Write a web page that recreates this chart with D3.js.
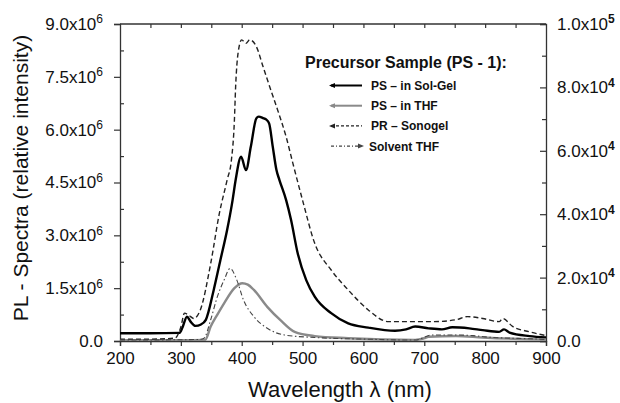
<!DOCTYPE html>
<html>
<head>
<meta charset="utf-8">
<script src="https://cdn.jsdelivr.net/npm/d3@7"></script>
<style>
  body { margin: 0; background: #fff; }
  svg { display: block; font-family: "Liberation Sans", Arial, sans-serif; }
</style>
</head>
<body>
<svg id="chart" width="620" height="403"></svg>
<script>
// PS - in Sol-Gel (left axis, x10^6)
const wlSolGel = [200, 250, 298, 303, 310, 316, 324, 333, 341, 354, 365, 376, 385, 390, 399, 407, 415, 424, 428, 435, 440, 445, 451, 457, 462, 473, 481, 492, 506, 520, 547, 575, 608, 652, 670, 685, 707, 729, 746, 774, 796, 823, 831, 840, 873, 900];
const solGel   = [0.22, 0.22, 0.23, 0.40, 0.69, 0.55, 0.43, 0.47, 0.60, 1.45, 2.30, 3.15, 4.00, 4.57, 5.23, 4.85, 5.52, 6.32, 6.37, 6.33, 6.29, 6.18, 5.52, 4.86, 4.57, 4.00, 3.44, 2.49, 1.73, 1.26, 0.79, 0.50, 0.38, 0.29, 0.33, 0.41, 0.36, 0.33, 0.39, 0.36, 0.31, 0.26, 0.33, 0.24, 0.14, 0.10];

// PS - in THF (left axis, x10^6)
const wlThf = [200, 300, 340, 349, 360, 371, 388, 401, 410, 420, 442, 465, 487, 520, 575, 685, 700, 707, 752, 796, 873, 900];
const thf   = [0.02, 0.02, 0.03, 0.41, 0.75, 1.07, 1.50, 1.64, 1.60, 1.45, 0.97, 0.57, 0.26, 0.14, 0.08, 0.03, 0.08, 0.12, 0.14, 0.10, 0.05, 0.04];

// PR - Sonogel (right axis, x10^4)
const wlSonogel = [200, 250, 290, 300, 306, 314, 321, 332, 349, 363, 376, 383, 388, 390, 394, 400, 407, 413, 424, 435, 446, 459, 473, 484, 500, 520, 547, 575, 608, 641, 674, 713, 752, 771, 796, 823, 829, 845, 873, 900];
const sonogel   = [0.06, 0.06, 0.09, 0.44, 0.88, 0.80, 0.71, 0.98, 2.44, 4.00, 5.08, 5.70, 6.97, 8.02, 9.08, 9.50, 9.39, 9.50, 9.29, 8.66, 8.02, 7.29, 6.44, 5.61, 4.44, 3.08, 2.24, 1.61, 0.98, 0.61, 0.61, 0.61, 0.67, 0.77, 0.71, 0.61, 0.71, 0.46, 0.29, 0.17];

// Solvent THF (right axis, x10^4)
const wlSolvent = [200, 300, 330, 338, 349, 360, 371, 381, 392, 403, 420, 442, 470, 520, 600, 685, 713, 752, 780, 800, 873, 900];
const solvent   = [0.03, 0.04, 0.05, 0.09, 0.67, 1.40, 1.92, 2.29, 1.92, 1.29, 0.77, 0.40, 0.19, 0.11, 0.06, 0.03, 0.19, 0.19, 0.17, 0.13, 0.07, 0.05];

const xTicks = [200, 300, 400, 500, 600, 700, 800, 900];
const leftTicks = [0, 1.5, 3, 4.5, 6, 7.5, 9];
const leftTickLabels = ["0.0", "1.5x10^6", "3.0x10^6", "4.5x10^6", "6.0x10^6", "7.5x10^6", "9.0x10^6"];
const rightTicks = [0, 2, 4, 6, 8, 10];
const rightTickLabels = ["0.0", "2.0x10^4", "4.0x10^4", "6.0x10^4", "8.0x10^4", "1.0x10^5"];
const legendTitle = "Precursor Sample (PS - 1):";
const legendNames = ["PS \u2013 in Sol-Gel", "PS \u2013 in THF", "PR \u2013 Sonogel", "Solvent THF"];

const m = { left: 120, right: 546, top: 24, bottom: 341 };
const svg = d3.select("#chart");

const x = d3.scaleLinear().domain([200, 900]).range([m.left, m.right]);
const yL = d3.scaleLinear().domain([0, 9]).range([m.bottom, m.top]);
const yR = d3.scaleLinear().domain([0, 10]).range([m.bottom, m.top]);

function sciLabel(text, label) {
    text.text(null);
    const parts = label.split("^");
    text.append("tspan").text(parts[0]);
    if (parts.length > 1) {
        text.append("tspan").attr("dy", "-0.55em").attr("font-size", "12px").text(parts[1]);
    }
}

const axisColor = "#333";

// minor ticks first
svg.append("g").attr("transform", `translate(0,${m.bottom})`)
    .call(d3.axisBottom(x).tickValues(d3.range(250, 900, 100)).tickSize(4).tickFormat(""))
    .call(g => g.select(".domain").remove());
svg.append("g").attr("transform", `translate(0,${m.top})`)
    .call(d3.axisBottom(x).tickValues(d3.range(250, 900, 50)).tickSize(4).tickFormat(""))
    .call(g => g.select(".domain").remove());
svg.append("g").attr("transform", `translate(${m.left},0)`)
    .call(d3.axisRight(yL).tickValues(d3.range(0.75, 9, 1.5)).tickSize(4).tickFormat(""))
    .call(g => g.select(".domain").remove());
svg.append("g").attr("transform", `translate(${m.right},0)`)
    .call(d3.axisLeft(yR).tickValues(d3.range(1, 10, 2)).tickSize(4).tickFormat(""))
    .call(g => g.select(".domain").remove());

// major axes
const gx = svg.append("g").attr("transform", `translate(0,${m.bottom})`)
    .call(d3.axisBottom(x).tickValues(xTicks).tickSize(5).tickPadding(6).tickFormat(d3.format("d")));
gx.selectAll("text").attr("font-size", "17px").attr("fill", "#111");

const gl = svg.append("g").attr("transform", `translate(${m.left},0)`)
    .call(d3.axisLeft(yL).tickValues(leftTicks).tickSize(6).tickPadding(11));
gl.selectAll("text").attr("font-size", "17px").attr("fill", "#111")
    .each(function(d, i) { sciLabel(d3.select(this), leftTickLabels[i]); });

const gr = svg.append("g").attr("transform", `translate(${m.right},0)`)
    .call(d3.axisRight(yR).tickValues(rightTicks).tickSize(-6).tickPadding(11));
gr.selectAll("text").attr("font-size", "17px").attr("fill", "#111")
    .each(function(d, i) { sciLabel(d3.select(this), rightTickLabels[i]); });
gr.selectAll("text tspan:nth-child(2)").attr("font-weight", "bold");

svg.selectAll(".domain").attr("stroke", axisColor).attr("stroke-width", 1.3);
svg.selectAll(".tick line").attr("stroke", axisColor).attr("stroke-width", 1.2);

// top frame line
svg.append("line")
    .attr("x1", m.left).attr("x2", m.right).attr("y1", m.top).attr("y2", m.top)
    .attr("stroke", axisColor).attr("stroke-width", 1.3);

// axis titles
svg.append("text")
    .attr("x", 340).attr("y", 397)
    .attr("text-anchor", "middle").attr("font-size", "22px").attr("fill", "#111")
    .text("Wavelength \u03bb (nm)");
svg.append("text")
    .attr("transform", "translate(28,178) rotate(-90)")
    .attr("text-anchor", "middle").attr("font-size", "21px").attr("fill", "#111")
    .text("PL - Spectra (relative intensity)");

// curves
svg.append("clipPath").attr("id", "clip")
    .append("rect").attr("x", m.left).attr("y", m.top).attr("width", m.right - m.left).attr("height", m.bottom - m.top);

const series = [
    { wl: wlSolGel, v: solGel, y: yL, color: "#000", width: 2.4, dash: null, legDash: null },
    { wl: wlThf, v: thf, y: yL, color: "#8a8a8a", width: 2.4, dash: null, legDash: null },
    { wl: wlSonogel, v: sonogel, y: yR, color: "#222", width: 1.4, dash: "5,3", legDash: "3,2" },
    { wl: wlSolvent, v: solvent, y: yR, color: "#444", width: 1.1, dash: "5,2.5,1.5,2.5", legDash: "3,2,1,2" }
];

const plot = svg.append("g").attr("clip-path", "url(#clip)");
series.forEach(s => {
    const line = d3.line()
        .x((d, i) => x(s.wl[i]))
        .y(d => s.y(d))
        .curve(d3.curveMonotoneX);
    plot.append("path")
        .attr("d", line(s.v))
        .attr("fill", "none")
        .attr("stroke", s.color)
        .attr("stroke-width", s.width)
        .attr("stroke-dasharray", s.dash);
});

// legend
svg.append("text")
    .attr("x", 305).attr("y", 68)
    .attr("font-size", "16px").attr("font-weight", "bold").attr("fill", "#111")
    .text(legendTitle);

const leg = svg.append("g").selectAll("g")
    .data(series)
    .enter()
    .append("g")
    .attr("transform", (d, i) => `translate(0,${90 + i * 20.2})`);

leg.append("line")
    .attr("x1", 331).attr("x2", 362).attr("y1", -4.5).attr("y2", -4.5)
    .attr("stroke", d => d.color)
    .attr("stroke-width", d => d.dash ? 1.2 : 2)
    .attr("stroke-dasharray", d => d.legDash);

leg.append("path")
    .attr("d", (d, i) => i < 3 ? "M329,-4.5 L335,-7 L335,-2 Z" : "M364,-4.5 L358,-7 L358,-2 Z")
    .attr("fill", d => d.color);

leg.append("text")
    .attr("x", (d, i) => i < 3 ? 371 : 369)
    .attr("font-size", "12px").attr("font-weight", "bold").attr("fill", "#111")
    .text((d, i) => legendNames[i]);
</script>
</body>
</html>
